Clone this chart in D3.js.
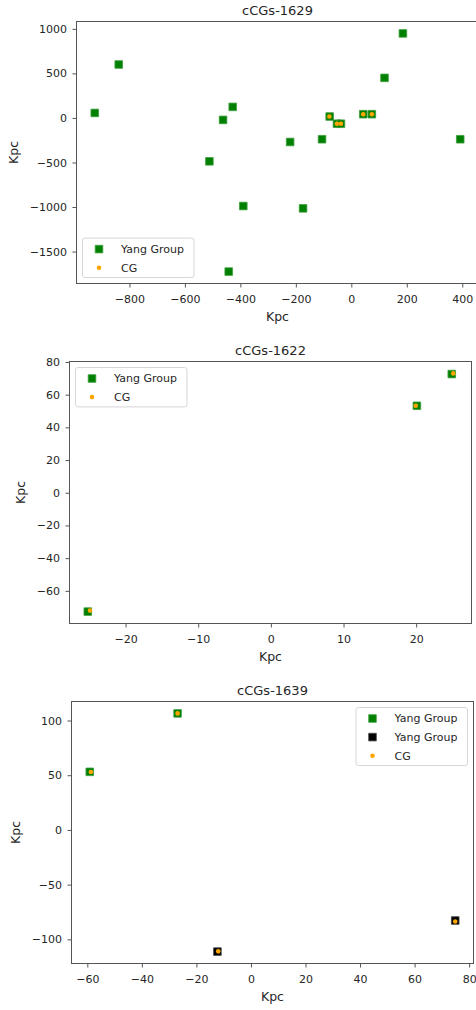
<!DOCTYPE html>
<html>
<head>
<meta charset="utf-8">
<script src="https://cdn.jsdelivr.net/npm/d3@7"></script>
<style>
  body { margin: 0; background: #fff; }
  svg { display: block; font-family: "DejaVu Sans", sans-serif; }
  .frame { fill: none; stroke: #555; stroke-width: 1; }
  .axis path { display: none; }
  .axis line { stroke: #555; }
  .axis text { fill: #262626; font-size: 11px; font-family: "DejaVu Sans", sans-serif; }
  .title { font-size: 13px; fill: #262626; text-anchor: middle; }
  .lab { font-size: 12.5px; fill: #262626; text-anchor: middle; }
  .legbox { fill: #fff; fill-opacity: 0.8; stroke: #d6d6d6; stroke-width: 1; }
  .legtext { font-size: 11px; fill: #262626; }
</style>
</head>
<body>
<script>
// cCGs-1629: Yang group members (green) and the compact group members (CG)
var yang1629X = [-925, -838.6, -511.7, -462.5, -427.6, -389.5, -442, -220.6, -174, -105.6, -78, -51.7, -37.4, 43, 74, 119.7, 186, 392.7];
var yang1629Y = [56, 600, -487, -22, 124, -989, -1725, -270, -1015, -239, 16, -65, -65, 42, 42, 450, 949, -239];
var cg1629X = [-79, -52, -37.4, 43, 74];
var cg1629Y = [16, -65, -65, 42, 42];

// cCGs-1622
var yang1622X = [-25.2, 20.1, 24.9];
var yang1622Y = [-72.7, 53.2, 72.6];
var cg1622X = [-24.9, 19.95, 25.1];
var cg1622Y = [-72.1, 53.2, 73];

// cCGs-1639: two Yang groups
var yangA1639X = [-59.1, -26.9];
var yangA1639Y = [53.1, 106.5];
var yangB1639X = [-12.3, 74.9];
var yangB1639Y = [-111.2, -82.8];
var cg1639X = [-58.7, -26.9, -12.0, 74.9];
var cg1639Y = [53, 106.5, -111, -83.7];

// tick labels
var xt1629 = [-800, -600, -400, -200, 0, 200, 400];
var yt1629 = [-1500, -1000, -500, 0, 500, 1000];
var xt1622 = [-20, -10, 0, 10, 20];
var yt1622 = [-60, -40, -20, 0, 20, 40, 60, 80];
var xt1639 = [-60, -40, -20, 0, 20, 40, 60, 80];
var yt1639 = [-100, -50, 0, 50, 100];

var zip = (xs, ys) => xs.map((x, i) => ({x: x, y: ys[i]}));

var panels = [
  {title: 'cCGs-1629', left: 76, top: 21, legend: 'lower left', xt: xt1629, yt: yt1629,
   series: [
     {label: 'Yang Group', kind: 'square', color: '#008000', pts: zip(yang1629X, yang1629Y)},
     {label: 'CG', kind: 'dot', color: '#ffa500', pts: zip(cg1629X, cg1629Y)}
   ]},
  {title: 'cCGs-1622', left: 69, top: 361, legend: 'upper left', xt: xt1622, yt: yt1622,
   series: [
     {label: 'Yang Group', kind: 'square', color: '#008000', pts: zip(yang1622X, yang1622Y)},
     {label: 'CG', kind: 'dot', color: '#ffa500', pts: zip(cg1622X, cg1622Y)}
   ]},
  {title: 'cCGs-1639', left: 71, top: 701, legend: 'upper right', xt: xt1639, yt: yt1639,
   series: [
     {label: 'Yang Group', kind: 'square', color: '#008000', pts: zip(yangA1639X, yangA1639Y)},
     {label: 'Yang Group', kind: 'square', color: '#000000', pts: zip(yangB1639X, yangB1639Y)},
     {label: 'CG', kind: 'dot', color: '#ffa500', pts: zip(cg1639X, cg1639Y)}
   ]}
];

var W = 402, H = 262;
var svg = d3.select('body').append('svg').attr('width', 476).attr('height', 1010);

// matplotlib style 5% padding on the data extent
var padded = function(vals) {
  var e = d3.extent(vals), m = (e[1] - e[0]) * 0.05;
  return [e[0] - m, e[1] + m];
};

var drawMark = function(sel, s) {
  if (s.kind == 'square') {
    sel.append('path')
      .attr('d', d3.symbol(d3.symbolSquare, 58)())
      .attr('fill', s.color)
      .attr('stroke', s.color == '#000000' ? '#444' : '#3f9f3f')
      .attr('stroke-width', 0.8);
  } else {
    sel.append('circle').attr('r', 2.3).attr('fill', s.color);
  }
};

panels.forEach(function(p) {
  var all = d3.merge(p.series.map(s => s.pts));
  var x = d3.scaleLinear().domain(padded(all.map(d => d.x))).range([0, W]);
  var y = d3.scaleLinear().domain(padded(all.map(d => d.y))).range([H, 0]);

  var g = svg.append('g').attr('transform', `translate(${p.left + 0.5},${p.top + 0.5})`);

  var gx = g.append('g').attr('class', 'axis').attr('transform', `translate(0,${H})`)
    .call(d3.axisBottom(x).tickValues(p.xt).tickSize(4).tickPadding(7.5).tickFormat(d3.format('d')));
  var gy = g.append('g').attr('class', 'axis')
    .call(d3.axisLeft(y).tickValues(p.yt).tickSize(4).tickPadding(5.5).tickFormat(d3.format('d')));

  p.series.forEach(function(s) {
    g.append('g').selectAll('g').data(s.pts).enter().append('g')
      .attr('transform', d => `translate(${x(d.x)},${y(d.y)})`)
      .each(function() { drawMark(d3.select(this), s); });
  });

  g.append('rect').attr('class', 'frame').attr('width', W).attr('height', H);

  g.append('text').attr('class', 'title').attr('x', W / 2).attr('y', -6.5).text(p.title);
  g.append('text').attr('class', 'lab').attr('x', W / 2).attr('y', H + 37).text('Kpc');
  var bx = gy.node().getBBox().x;
  g.append('text').attr('class', 'lab')
    .attr('transform', `translate(${bx - 12},${H / 2}) rotate(-90)`).text('Kpc');

  // legend
  var lw = 111.5, lh = p.series.length * 18.6 + 2.2, lx, ly;
  if (p.legend == 'lower left') { lx = 6; ly = H - 6 - lh; }
  else if (p.legend == 'upper left') { lx = 6; ly = 6; }
  else { lx = W - 6 - lw; ly = 6; }
  var leg = g.append('g').attr('transform', `translate(${lx},${ly})`);
  leg.append('rect').attr('class', 'legbox').attr('width', lw).attr('height', lh).attr('rx', 2.5);
  p.series.forEach(function(s, i) {
    var row = leg.append('g').attr('transform', `translate(0,${11 + i * 18.6})`);
    drawMark(row.append('g').attr('transform', 'translate(16.5,0)'), s);
    row.append('text').attr('class', 'legtext').attr('x', 38.5).attr('dy', '0.35em').text(s.label);
  });
});
</script>
</body>
</html>
